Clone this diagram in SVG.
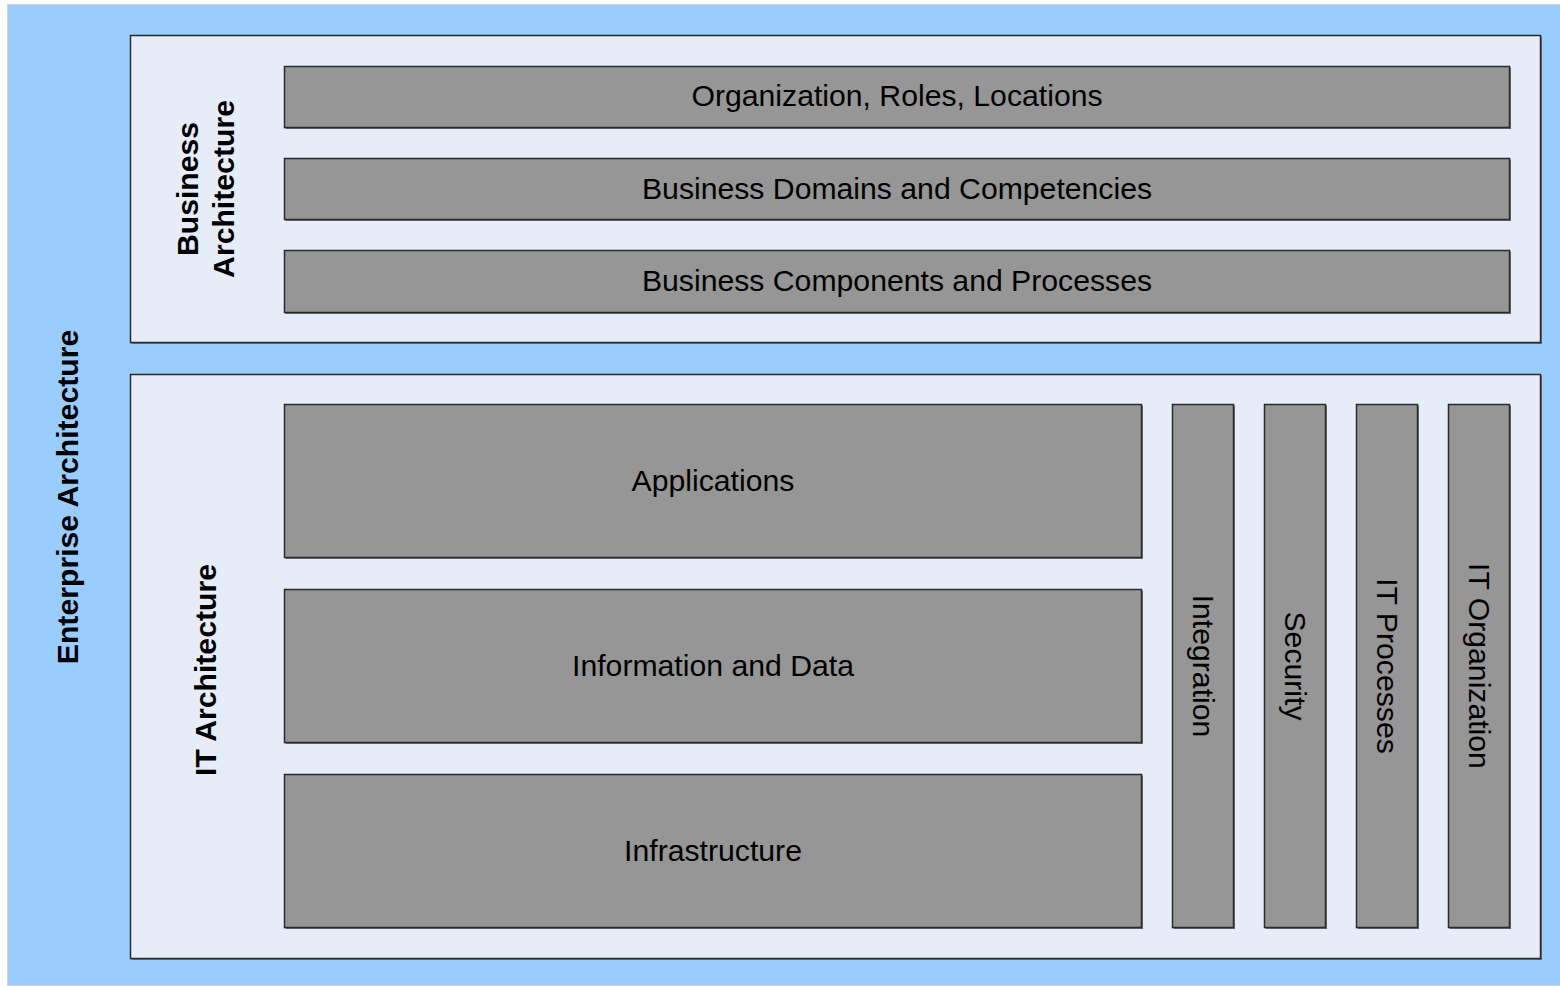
<svg xmlns="http://www.w3.org/2000/svg" width="1560" height="986" viewBox="0 0 1560 986">
<style>
.bg{fill:#99CCFF;stroke:#d4d4d4;stroke-width:1}
.panel{fill:#E6EDF8;stroke:#2b2b2b;stroke-width:1.5}
.box{fill:#969696;stroke:#2b2b2b;stroke-width:1.5}
.shadow{fill:#707070}
.t{font-family:"Liberation Sans",Arial,sans-serif;font-size:30.2px;fill:#000;text-anchor:middle}
.b{font-weight:bold}
</style>
<rect width="1560" height="986" fill="#ffffff"/>
<g id="enterprise">
<rect class="bg" x="7.5" y="4.5" width="1560" height="981"/>
<text class="t b" transform="translate(78,497) rotate(-90)">Enterprise Architecture</text>
</g>
<g id="business-architecture">
<rect class="shadow" x="131.5" y="36.5" width="1410.5" height="307.5"/>
<rect class="panel" x="130.5" y="35.5" width="1410" height="307"/>
<text class="t b" transform="translate(198,189) rotate(-90)">Business</text>
<text class="t b" transform="translate(234,189) rotate(-90)">Architecture</text>
</g>
<g id="org-roles">
<rect class="shadow" x="285.5" y="67.5" width="1225.5" height="61.5"/>
<rect class="box" x="284.5" y="66.5" width="1225" height="61"/>
<text class="t" x="897" y="106">Organization, Roles, Locations</text>
</g>
<g id="business-domains">
<rect class="shadow" x="285.5" y="159.5" width="1225.5" height="61.5"/>
<rect class="box" x="284.5" y="158.5" width="1225" height="61"/>
<text class="t" x="897" y="199">Business Domains and Competencies</text>
</g>
<g id="business-components">
<rect class="shadow" x="285.5" y="251.5" width="1225.5" height="62.5"/>
<rect class="box" x="284.5" y="250.5" width="1225" height="62"/>
<text class="t" x="897" y="291">Business Components and Processes</text>
</g>
<g id="it-architecture">
<rect class="shadow" x="131.5" y="375.5" width="1410.5" height="584.5"/>
<rect class="panel" x="130.5" y="374.5" width="1410" height="584"/>
<text class="t b" transform="translate(216,670) rotate(-90)">IT Architecture</text>
</g>
<g id="applications">
<rect class="shadow" x="285.5" y="405.5" width="857.5" height="153.5"/>
<rect class="box" x="284.5" y="404.5" width="857" height="153"/>
<text class="t" x="713" y="491">Applications</text>
</g>
<g id="information-data">
<rect class="shadow" x="285.5" y="590.5" width="857.5" height="153.5"/>
<rect class="box" x="284.5" y="589.5" width="857" height="153"/>
<text class="t" x="713" y="676">Information and Data</text>
</g>
<g id="infrastructure">
<rect class="shadow" x="285.5" y="775.5" width="857.5" height="153.5"/>
<rect class="box" x="284.5" y="774.5" width="857" height="153"/>
<text class="t" x="713" y="861">Infrastructure</text>
</g>
<g id="integration">
<rect class="shadow" x="1173.5" y="405.5" width="61.5" height="523.5"/>
<rect class="box" x="1172.5" y="404.5" width="61" height="523"/>
<text class="t" transform="translate(1193,666) rotate(90)">Integration</text>
</g>
<g id="security">
<rect class="shadow" x="1265.5" y="405.5" width="61.5" height="523.5"/>
<rect class="box" x="1264.5" y="404.5" width="61" height="523"/>
<text class="t" transform="translate(1285,666) rotate(90)">Security</text>
</g>
<g id="it-processes">
<rect class="shadow" x="1357.5" y="405.5" width="61.5" height="523.5"/>
<rect class="box" x="1356.5" y="404.5" width="61" height="523"/>
<text class="t" transform="translate(1377,666) rotate(90)">IT Processes</text>
</g>
<g id="it-organization">
<rect class="shadow" x="1449.5" y="405.5" width="61.5" height="523.5"/>
<rect class="box" x="1448.5" y="404.5" width="61" height="523"/>
<text class="t" transform="translate(1469,666) rotate(90)">IT Organization</text>
</g>
<g id="connectors"></g>
</svg>
